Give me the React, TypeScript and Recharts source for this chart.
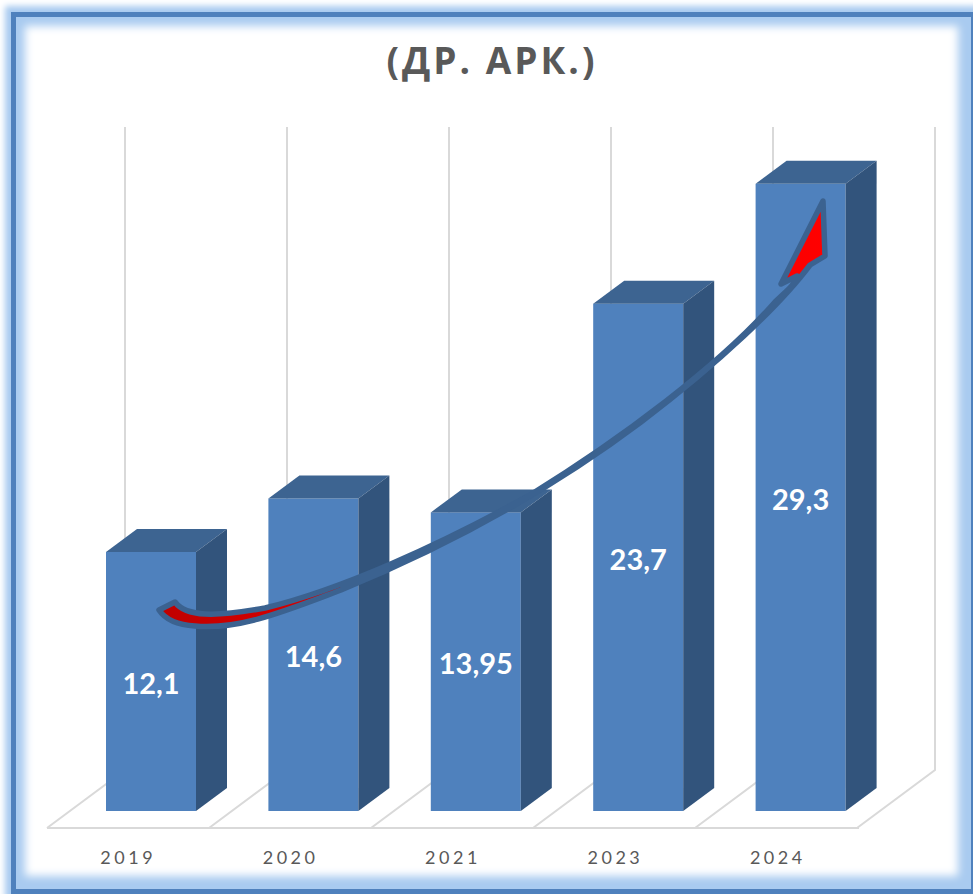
import { BarChart, Bar, XAxis, YAxis, LabelList } from "recharts";

const years = ["2019", "2020", "2021", "2023", "2024"];
const prices = [12.1, 14.6, 13.95, 23.7, 29.3];
const chartData = years.map((year, i) => ({ year, price: prices[i] }));

const WIDTH = 973;
const HEIGHT = 894;
const FRONT = "#4F81BD";
const TOP = "#3D6491";
const SIDE = "#32547C";
const GRID = "#D9D9D9";
const GLOW = "#A9CBF0";
const DEPTH_X = 31;
const DEPTH_Y = 23;

function Box3D({ x, y, width, height }: any) {
  return (
    <g>
      <rect x={x} y={y} width={width} height={height} fill={FRONT} />
      <polygon
        points={`${x},${y} ${x + DEPTH_X},${y - DEPTH_Y} ${x + width + DEPTH_X},${y - DEPTH_Y} ${x + width},${y}`}
        fill={TOP}
      />
      <polygon
        points={`${x + width},${y} ${x + width + DEPTH_X},${y - DEPTH_Y} ${x + width + DEPTH_X},${y + height - DEPTH_Y} ${x + width},${y + height}`}
        fill={SIDE}
      />
    </g>
  );
}

// back wall lines and the floor of the 3d box
function Walls() {
  const xs = [125, 287, 449, 611, 773, 935];
  return (
    <g stroke={GRID} strokeWidth={2} fill="none">
      {xs.map((x) => (
        <path key={x} d={`M${x} 127 V770 L${x - 78} 828`} />
      ))}
      <path d="M47 828 H859" />
    </g>
  );
}

// drawn in its own svg so it stays on top of the bars
function TrendArrow() {
  return (
    <svg
      width={WIDTH}
      height={HEIGHT}
      style={{ position: "absolute", left: 0, top: 0, pointerEvents: "none" }}
    >
      <defs>
        <linearGradient id="arrowFill" x1="0" y1="0" x2="1" y2="0">
          <stop offset="0" stopColor="#C00000" />
          <stop offset="0.25" stopColor="#D80000" />
          <stop offset="1" stopColor="#FF0000" />
        </linearGradient>
      </defs>
      <path
        d="M175 602 C186 617 215 617 265 608 C340 590 440 545 530 495 C620 440 720 365 775 302 C785 292 795 285 797 276 L781 284 L823 201 L825 256 L810 265 C780 305 720 362 641 422 C541 497 441 549 341 590 C285 611 240 630 195 626 C178 625 165 619 159 610 Z"
        fill="url(#arrowFill)"
        stroke="#3B6290"
        strokeWidth={5.5}
        strokeLinejoin="round"
      />
    </svg>
  );
}

export default function App() {
  return (
    <div
      style={{
        position: "absolute",
        left: 0,
        top: 0,
        width: WIDTH,
        height: HEIGHT,
        overflow: "hidden",
        background: "#fff",
      }}
    >
      <div
        style={{
          position: "absolute",
          left: 11,
          top: 12,
          right: -3,
          bottom: 0,
          border: "5px solid #4F81BD",
          boxShadow: `0 0 6px 6px ${GLOW}, inset -2px -2px 8px 11px ${GLOW}`,
        }}
      />
      <div style={{ position: "absolute", left: 0, top: 0 }}>
        <BarChart
          width={WIDTH}
          height={HEIGHT}
          data={chartData}
          margin={{ top: 126, right: 91, bottom: 0, left: 70 }}
        >
          <Walls />
          <text
            x={492}
            y={74}
            textAnchor="middle"
            fill="#595959"
            fontFamily="'Open Sans', sans-serif"
            fontWeight={700}
            fontSize={37}
            letterSpacing={3}
          >
            (ДР. АРК.)
          </text>
          <XAxis
            dataKey="year"
            axisLine={false}
            tickLine={false}
            interval={0}
            height={83}
            tickMargin={34}
            dx={-23}
            tick={{
              fill: "#595959",
              fontSize: 18,
              fontFamily: "Lato, sans-serif",
              letterSpacing: 3.5,
            }}
          />
          <YAxis hide domain={[0, 32]} />
          <Bar
            dataKey="price"
            barSize={90}
            shape={<Box3D />}
            isAnimationActive={false}
          >
            <LabelList
              dataKey="price"
              position="center"
              formatter={(v: any) => String(v).replace(".", ",")}
              fill="#fff"
              fontFamily="Lato, sans-serif"
              fontWeight={700}
              fontSize={29}
              dy={2}
            />
          </Bar>
        </BarChart>
        <TrendArrow />
      </div>
    </div>
  );
}
